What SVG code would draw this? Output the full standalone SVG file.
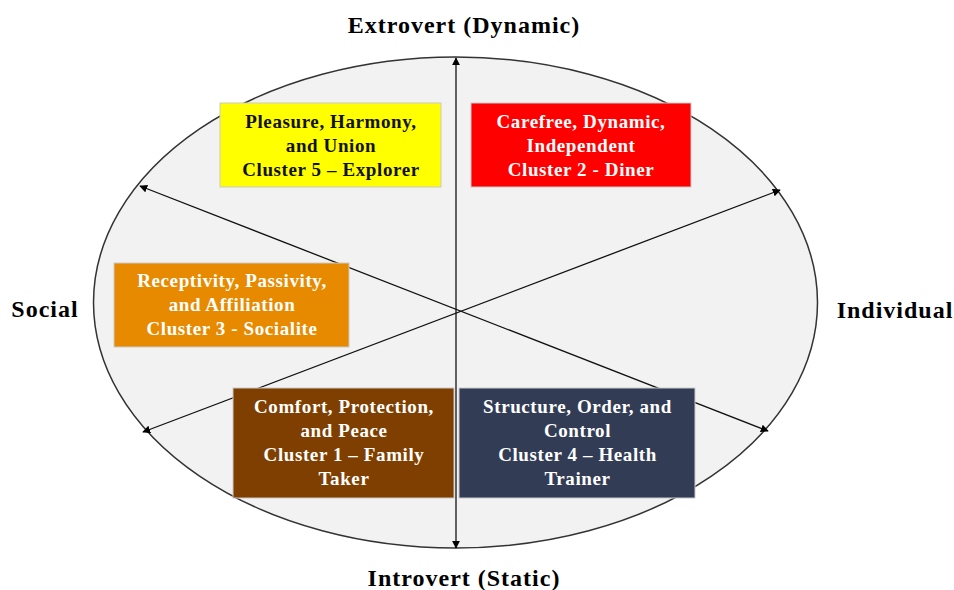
<svg xmlns="http://www.w3.org/2000/svg" width="954" height="590" viewBox="0 0 954 590">
<defs>
<marker id="ah" viewBox="0 0 10 10" refX="9" refY="5" markerWidth="8" markerHeight="8" orient="auto-start-reverse" markerUnits="userSpaceOnUse">
<path d="M0,0 L10,5 L0,10 z" fill="#000"/>
</marker>
<style>
.t{font-family:"Liberation Serif","Times New Roman",serif;font-weight:bold;text-anchor:middle}
.bt{font-size:19px;letter-spacing:0.6px}
.ax{font-size:24px;letter-spacing:1px;fill:#000}
.ln{stroke:#111;stroke-width:1.3;fill:none;marker-start:url(#ah);marker-end:url(#ah)}
.box{stroke:#c9c9c9;stroke-width:1}
</style>
</defs>
<rect width="954" height="590" fill="#fff"/>
<ellipse cx="455.5" cy="302.5" rx="362" ry="245.5" fill="#F2F2F2" stroke="#333" stroke-width="1.5"/>
<g id="connectors">
<line class="ln" x1="456" y1="58" x2="456" y2="548"/>
<line class="ln" x1="140" y1="186" x2="768" y2="431"/>
<line class="ln" x1="143" y1="432" x2="780" y2="190"/>
</g>
<g id="label-top"><text class="t ax" x="464" y="33">Extrovert (Dynamic)</text></g>
<g id="label-bottom"><text class="t ax" x="464" y="586">Introvert (Static)</text></g>
<g id="label-left"><text class="t ax" x="45" y="317">Social</text></g>
<g id="label-right"><text class="t ax" x="895" y="318">Individual</text></g>
<g id="cluster5">
<rect class="box" x="220" y="103" width="221" height="84" fill="#FFFF00"/>
<text class="t bt" fill="#111"><tspan x="331" y="128">Pleasure, Harmony,</tspan><tspan x="331" y="152">and Union</tspan><tspan x="331" y="176">Cluster 5 – Explorer</tspan></text>
</g>
<g id="cluster2">
<rect class="box" x="471" y="103" width="220" height="84" fill="#FF0000"/>
<text class="t bt" fill="#fff"><tspan x="581" y="128">Carefree, Dynamic,</tspan><tspan x="581" y="152">Independent</tspan><tspan x="581" y="176">Cluster 2 - Diner</tspan></text>
</g>
<g id="cluster3">
<rect class="box" x="114" y="263" width="235" height="84" fill="#E88A00"/>
<text class="t bt" fill="#fff"><tspan x="232" y="287">Receptivity, Passivity,</tspan><tspan x="232" y="311">and Affiliation</tspan><tspan x="232" y="335">Cluster 3 - Socialite</tspan></text>
</g>
<g id="cluster1">
<rect class="box" x="233" y="388" width="221" height="110" fill="#7F3F00"/>
<text class="t bt" fill="#fff"><tspan x="344" y="413">Comfort, Protection,</tspan><tspan x="344" y="437">and Peace</tspan><tspan x="344" y="461">Cluster 1 – Family</tspan><tspan x="344" y="485">Taker</tspan></text>
</g>
<g id="cluster4">
<rect class="box" x="459" y="388" width="236" height="110" fill="#323C55"/>
<text class="t bt" fill="#fff"><tspan x="577.5" y="413">Structure, Order, and</tspan><tspan x="577.5" y="437">Control</tspan><tspan x="577.5" y="461">Cluster 4 – Health</tspan><tspan x="577.5" y="485">Trainer</tspan></text>
</g>
</svg>
